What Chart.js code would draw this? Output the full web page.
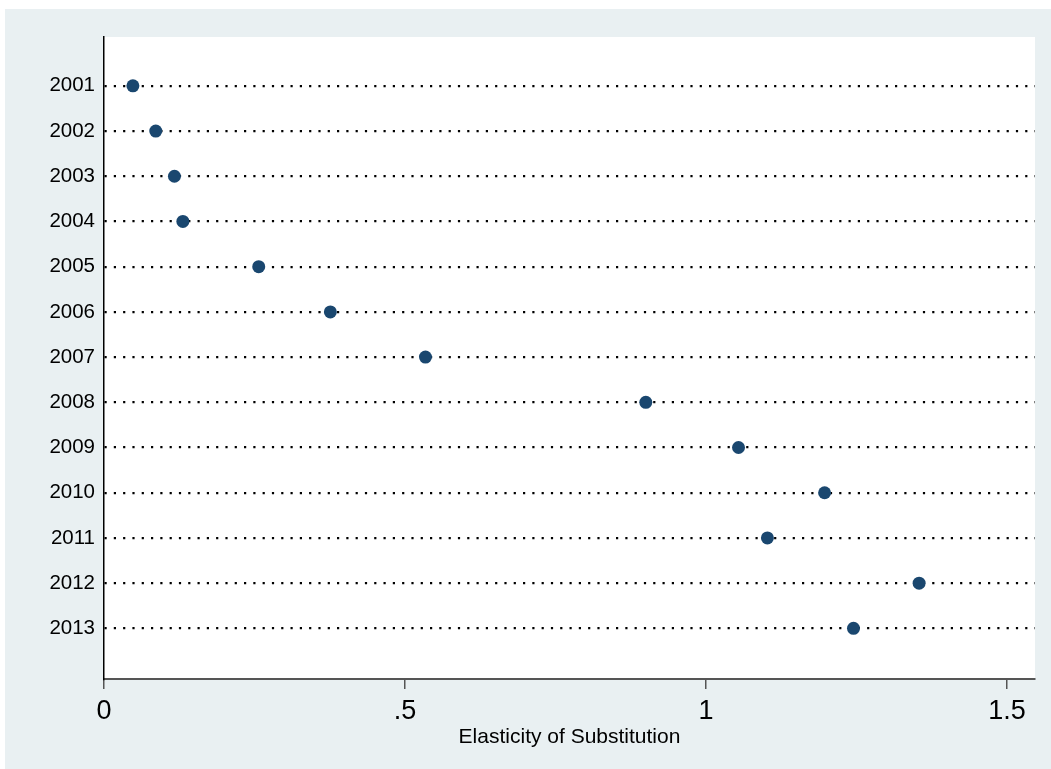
<!DOCTYPE html>
<html>
<head>
<meta charset="utf-8">
<script src="https://cdn.jsdelivr.net/npm/chart.js@4"></script>
<style>
  body { margin: 0; background: #fff; }
  canvas { display: block; }
</style>
</head>
<body>
<canvas id="elasticityChart" width="1051" height="769"></canvas>
<script>
// data
const years = ['2001', '2002', '2003', '2004', '2005', '2006', '2007', '2008', '2009', '2010', '2011', '2012', '2013'];
const elasticity = [0.048, 0.086, 0.117, 0.131, 0.257, 0.376, 0.534, 0.900, 1.054, 1.197, 1.102, 1.354, 1.245];
const xTicks = [0, 0.5, 1, 1.5];
const xTickLabels = ['0', '.5', '1', '1.5'];

const FONT = '"Liberation Sans", Arial, Helvetica, sans-serif';

// stata-like backdrop: light outer region, white plot region
const backdrop = {
  id: 'backdrop',
  beforeDraw(chart) {
    const { ctx, width, height, chartArea } = chart;
    ctx.save();
    ctx.fillStyle = '#fff';
    ctx.fillRect(0, 0, width, height);
    ctx.fillStyle = '#e9f0f2';
    ctx.fillRect(5, 9, width - 5, height - 9);
    ctx.fillStyle = '#fff';
    ctx.fillRect(chartArea.left, chartArea.top, chartArea.right - chartArea.left, chartArea.bottom - chartArea.top);
    ctx.restore();
  }
};

const ctx = document.getElementById('elasticityChart').getContext('2d');
new Chart(ctx, {
  type: 'scatter',
  data: {
    datasets: [{
      label: 'Elasticity of Substitution',
      data: elasticity.map((v, i) => ({ x: v, y: i })),
      pointRadius: 6.5,
      pointBackgroundColor: '#1a476f',
      pointBorderWidth: 0,
      showLine: false
    }]
  },
  options: {
    responsive: false,
    animation: false,
    devicePixelRatio: 1,
    layout: { padding: { left: 0, top: 37, right: 16, bottom: 19 } },
    plugins: {
      legend: { display: false },
      tooltip: { enabled: false }
    },
    scales: {
      x: {
        type: 'linear',
        min: 0,
        max: 1.5465,
        afterBuildTicks: (scale) => { scale.ticks = xTicks.map(v => ({ value: v })); },
        afterFit: (scale) => { scale.height = 71; },
        ticks: {
          autoSkip: false,
          maxRotation: 0,
          padding: 6,
          color: '#000',
          font: { family: FONT, size: 27 },
          callback: (value) => xTickLabels[xTicks.indexOf(value)]
        },
        grid: { drawOnChartArea: false, tickLength: 10, color: '#555', lineWidth: 1.5 },
        border: { color: '#555', width: 2 },
        title: {
          display: true,
          text: 'Elasticity of Substitution',
          color: '#000',
          padding: 0,
          font: { family: FONT, size: 21 }
        }
      },
      y: {
        type: 'linear',
        reverse: true,
        min: -1.08,
        max: 13.12,
        afterBuildTicks: (scale) => { scale.ticks = years.map((_, i) => ({ value: i })); },
        afterFit: (scale) => { scale.width = 104; },
        ticks: {
          autoSkip: false,
          padding: 9,
          color: '#000',
          font: { family: FONT, size: 20.5 },
          callback: (value) => years[value]
        },
        grid: {
          drawTicks: false,
          color: '#000',
          lineWidth: 2.2
        },
        border: { color: '#000', width: 1.5, dash: [2.2, 7.1] }
      }
    }
  },
  plugins: [backdrop]
});
</script>
</body>
</html>
